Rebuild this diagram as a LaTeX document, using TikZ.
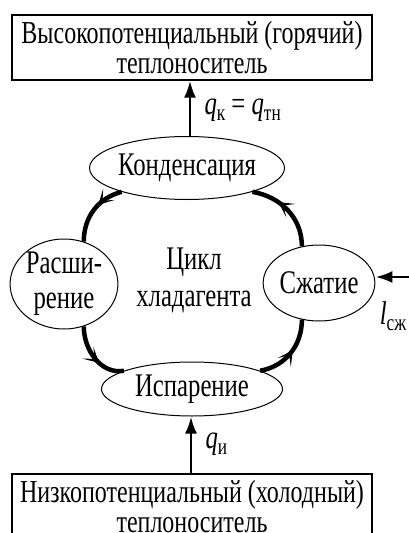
\documentclass[tikz,border=0pt]{standalone}
\usepackage{fontspec}
\setmainfont{Liberation Serif}[FakeStretch=0.75]
\usetikzlibrary{shapes.geometric,arrows.meta,decorations.markings}
\newcommand{\qidx}[2]{\textit{#1}\raisebox{-0.4ex}{\fontsize{23}{23}\selectfont #2}}
\tikzset{
  carrier/.style={draw,line width=1.2pt,minimum width=360pt,minimum height=65pt,
    align=center,inner sep=0pt,font=\fontsize{32}{30}\selectfont},
  stage/.style={draw,ellipse,line width=1pt,inner sep=0pt,align=center,
    font=\fontsize{33}{35}\selectfont},
  flow/.style={line width=4.5pt,postaction={decorate},decoration={markings,
    mark=at position #1 with {\arrow{Stealth[length=15pt,width=16pt,inset=9pt]}}}},
  heat/.style={-{Latex[length=17pt,width=12pt]},line width=2.8pt}
}
\begin{document}
\begin{tikzpicture}[x=1pt,y=-1pt]
\useasboundingbox (0,0) rectangle (409,533);
\node[carrier] (hot) at (192,47.5) {Высокопотенциальный (горячий)\\теплоноситель};
\node[carrier] (cold) at (192,506.5) {Низкопотенциальный (холодный)\\теплоноситель};
\node[stage,minimum width=180pt,minimum height=63pt] (kond) at (187,168) {Конденсация};
\node[stage,minimum width=105pt,minimum height=80pt] (rassh) at (64,284) {Расши-\\рение};
\node[stage,minimum width=100pt,minimum height=76pt] (szh) at (319,283) {Сжатие};
\node[stage,minimum width=181pt,minimum height=54pt] (isp) at (192,389) {Испарение};
\node[font=\fontsize{33}{37}\selectfont,align=center] (cycle) at (194,280) {Цикл\\хладагента};
% heat flows
\coordinate (kondtop) at (190,137);
\coordinate (isptop) at (191,473);
\draw[heat] (kondtop) -- (kondtop |- hot.south);
\draw[heat] (isptop) -- (isptop |- isp.south);
\node[anchor=west,font=\fontsize{33}{33}\selectfont] (qk) at (201,110) {\qidx{q}{к} = \qidx{q}{тн}};
\node[anchor=west,font=\fontsize{33}{33}\selectfont] (qi) at (202,444) {\qidx{q}{и}};
% work input
\coordinate (lin) at (409,277);
\draw[heat] (lin) -- (szh.east |- lin);
\node[font=\fontsize{33}{33}\selectfont] (lsz) at (393,316) {\qidx{l}{сж}};
% refrigerant cycle
\draw[flow=0.4] (kond.200) to[out=195,in=90] (rassh.65);
\draw[flow=0.6] (rassh.-65) to[out=-90,in=190] (isp.165);
\draw[flow=0.55] (isp.15) to[out=10,in=-90] (szh.-115);
\draw[flow=0.65] (szh.115) to[out=90,in=-10] (kond.-20);
\end{tikzpicture}
\end{document}
